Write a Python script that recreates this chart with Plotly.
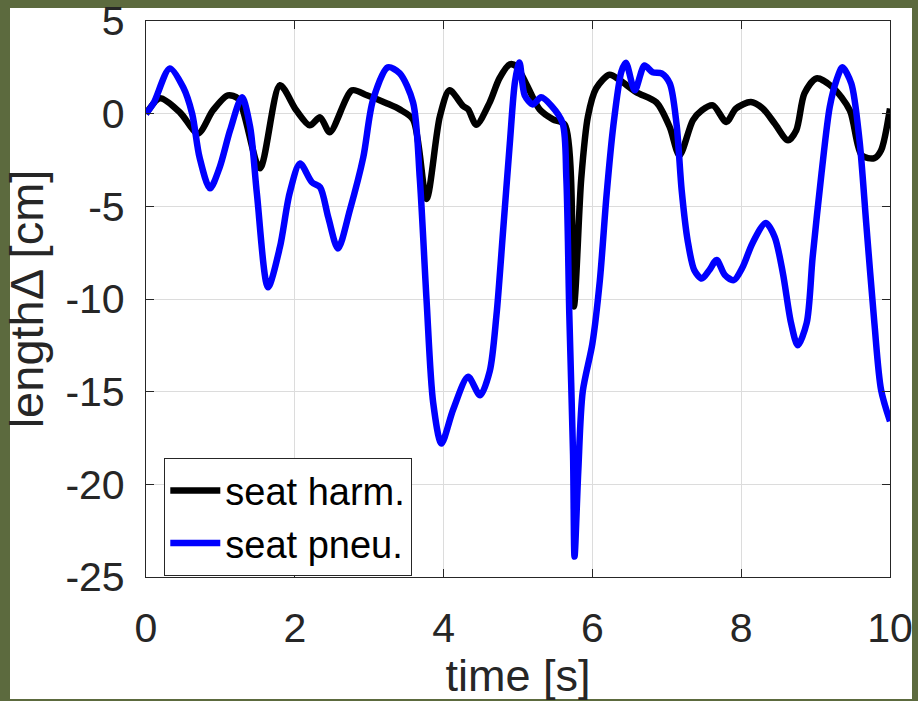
import plotly.graph_objects as go

# seat harm. (black)
harm_t = [0.00, 0.19, 0.46, 0.70, 0.90, 1.10, 1.24, 1.53, 1.80, 2.02, 2.20, 2.34, 2.47, 2.77, 2.97, 3.24,
          3.41, 3.59, 3.77, 3.95, 4.08, 4.26, 4.33, 4.44, 4.62, 4.75, 4.89, 4.98, 5.12, 5.29, 5.47, 5.63,
          5.75, 5.85, 5.94, 6.05, 6.23, 6.37, 6.59, 6.86, 7.04, 7.17, 7.35, 7.47, 7.62, 7.80, 7.93, 8.13,
          8.29, 8.45, 8.63, 8.74, 8.85, 9.01, 9.23, 9.46, 9.62, 9.79, 9.88, 10.00]
harm_y = [0.00, 0.83, 0.05, -1.07, 0.18, 0.99, 0.80, -2.95, 1.53, 0.18, -0.63, -0.20, -1.00, 1.26, 0.99, 0.55,
          0.23, -0.32, -4.60, -0.14, 1.26, 0.42, 0.23, -0.60, 0.61, 1.90, 2.66, 2.55, 1.53, 0.23, -0.31, -0.60,
          -10.40, -3.50, -0.15, 1.36, 2.10, 1.80, 1.16, 0.61, -0.73, -2.25, -0.36, 0.18, 0.45, -0.45, 0.28, 0.63,
          0.28, -0.53, -1.44, -0.90, 1.09, 1.90, 1.42, 0.18, -2.25, -2.40, -1.98, 0.28]

# seat pneu. (blue)
pneu_t = [0.00, 0.10, 0.32, 0.50, 0.62, 0.72, 0.86, 0.99, 1.13, 1.29, 1.40, 1.49, 1.64, 1.80, 1.93, 2.07,
          2.23, 2.34, 2.45, 2.58, 2.74, 2.92, 3.05, 3.25, 3.41, 3.59, 3.68, 3.77, 3.86, 3.97, 4.13, 4.33,
          4.49, 4.62, 4.71, 4.80, 4.89, 4.96, 5.02, 5.09, 5.20, 5.31, 5.45, 5.60, 5.65, 5.69, 5.74, 5.76,
          5.81, 5.87, 6.00, 6.10, 6.19, 6.28, 6.39, 6.45, 6.57, 6.70, 6.81, 6.93, 7.04, 7.13, 7.20, 7.28,
          7.37, 7.47, 7.57, 7.67, 7.78, 7.90, 8.02, 8.15, 8.33, 8.45, 8.56, 8.67, 8.76, 8.88, 8.96, 9.08,
          9.19, 9.28, 9.36, 9.48, 9.59, 9.68, 9.79, 9.88, 10.00]
pneu_y = [0.00, 0.55, 2.44, 1.42, 0.00, -2.36, -4.03, -2.90, -0.90, 0.88, -0.73, -4.30, -9.37, -7.20, -4.30, -2.69,
          -3.70, -3.97, -5.60, -7.28, -5.20, -2.36, 0.72, 2.50, 2.18, 0.60, -3.50, -10.00, -15.60, -17.80, -15.95, -14.20,
          -15.20, -13.90, -10.90, -6.30, -1.60, 1.74, 2.76, 0.99, 0.50, 0.88, 0.42, -0.51, -3.50, -10.90, -18.40, -23.90,
          -19.30, -15.00, -12.40, -9.00, -4.40, -0.70, 2.28, 2.75, 1.26, 2.60, 2.23, 2.17, 1.63, -0.53, -4.14, -6.84,
          -8.45, -8.90, -8.45, -7.90, -8.70, -8.98, -8.27, -7.00, -5.90, -6.65, -8.60, -11.30, -12.50, -11.30, -7.75, -3.20,
          0.36, 1.80, 2.50, 1.63, -1.44, -5.90, -11.30, -14.90, -16.60]

x_ticks = [0, 2, 4, 6, 8, 10]
y_ticks = [5, 0, -5, -10, -15, -20, -25]

FONT = "Liberation Sans, Arial, Helvetica, sans-serif"

fig = go.Figure()
fig.add_trace(go.Scatter(x=harm_t, y=harm_y, mode="lines", name="seat harm.",
                         line=dict(color="black", width=6.5, shape="spline", smoothing=0.8)))
fig.add_trace(go.Scatter(x=pneu_t, y=pneu_y, mode="lines", name="seat pneu.",
                         line=dict(color="#0000ff", width=6.5, shape="spline", smoothing=0.8)))

W, H = 918, 701
L, R, T, B = 146, 28, 21, 124
pw, ph = W - L - R, H - T - B

def px2paper_x(p):
    return (p - L) / pw

def px2paper_y(p):
    return (H - B - p) / ph

fig.add_shape(type="rect", xref="paper", yref="paper",
              x0=px2paper_x(10), x1=px2paper_x(912), y0=px2paper_y(699), y1=px2paper_y(8),
              fillcolor="white", line=dict(width=0), layer="below")

axis_common = dict(
    showline=True, linecolor="#262626", linewidth=1.3, mirror="ticks",
    ticks="inside", ticklen=8, tickwidth=1.3, tickcolor="#262626",
    showgrid=True, gridcolor="#dcdcdc", gridwidth=1.3, zeroline=False,
    tickfont=dict(family=FONT, size=41, color="#262626"),
    ticklabeloverflow="allow",
)

fig.update_xaxes(range=[0, 10], tickvals=x_ticks, ticktext=[str(v) for v in x_ticks],
                 ticklabelstandoff=15,
                 title=dict(text="time [s]", font=dict(family=FONT, size=45, color="#262626"), standoff=4),
                 **axis_common)
fig.update_yaxes(range=[-25, 5], tickvals=y_ticks, ticktext=[str(v) for v in y_ticks],
                 ticklabelstandoff=12,
                 title=dict(text="lengthΔ [cm]", font=dict(family=FONT, size=47, color="#262626"), standoff=7),
                 **axis_common)

fig.update_layout(
    width=W, height=H,
    margin=dict(l=L, r=R, t=T, b=B, autoexpand=False),
    paper_bgcolor="#5c6a3e",
    plot_bgcolor="white",
    showlegend=True,
    legend=dict(x=px2paper_x(164), y=px2paper_y(458), xanchor="left", yanchor="top",
                bgcolor="white", bordercolor="#262626", borderwidth=1.3,
                font=dict(family=FONT, size=38, color="black"),
                itemwidth=50, tracegroupgap=0),
)

fig.write_html("out.html")
